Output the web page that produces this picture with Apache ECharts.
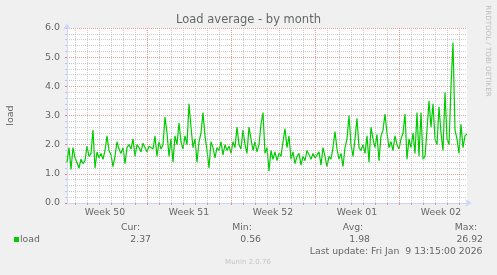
<!DOCTYPE html>
<html>
<head>
<meta charset="utf-8">
<script src="https://cdn.jsdelivr.net/npm/echarts@6/dist/echarts.min.js"></script>
<style>html,body{margin:0;padding:0;background:#f0f0f0;}#c{width:497px;height:275px;}</style>
</head>
<body>
<div id="c"></div>
<script>
// ---- data ----
const title = 'Load average - by month';
const yLabel = 'load';
const stepHours = 4;              // one sample every 4 hours
const firstMondayHour = 160;      // hours from first sample to first week boundary
const weekLabels = ['Week 50', 'Week 51', 'Week 52', 'Week 01', 'Week 02'];
const yTicks = [0, 1, 2, 3, 4, 5, 6];
const loadValues = [
  1.4, 1.9, 1.15, 1.9, 1.55, 1.6, 1.2, 1.5, 1.35, 1.45,
  1.95, 1.6, 1.7, 2.5, 1.2, 1.75, 1.55, 1.7, 1.5, 1.8,
  2.3, 1.8, 1.65, 1.25, 1.6, 2.1, 1.85, 1.7, 1.9, 1.35,
  1.9, 2.0, 1.85, 2.2, 1.6, 2.0, 1.9, 1.75, 2.05, 1.9,
  1.75, 1.95, 2.0, 1.85, 2.3, 1.6, 2.1, 1.85, 2.0, 2.95,
  2.4, 1.6, 2.2, 1.4, 2.3, 2.0, 2.75, 2.1, 1.85, 2.3,
  2.0, 3.4, 2.6, 1.9, 2.2, 1.4, 2.1, 2.4, 3.1, 2.3,
  1.8, 1.2, 2.1, 1.9, 1.55, 1.9, 1.8, 2.1, 1.65, 2.0,
  1.8, 1.95, 1.7, 2.1, 1.9, 2.6, 2.0, 1.85, 2.5, 2.0,
  1.7, 2.6, 2.2, 1.8, 2.1, 1.75, 2.0, 2.7, 3.1, 1.7,
  1.9, 1.1, 1.8, 1.5, 1.75, 1.45, 1.7, 1.6, 2.1, 2.55,
  1.9, 2.3, 1.5, 1.75, 1.35, 1.6, 1.7, 1.3, 1.6, 1.45,
  1.8, 1.65, 1.5, 1.7, 1.55, 1.5, 1.75, 1.3, 1.9, 1.6,
  1.25, 1.6, 1.5, 1.9, 2.45, 1.85, 1.5, 1.7, 1.25, 1.9,
  2.2, 3.0, 2.0, 1.6, 2.2, 2.9, 1.9, 1.8, 2.0, 1.7,
  2.3, 1.4, 2.6, 2.2, 1.9, 2.35, 1.45, 2.3, 2.5, 3.05,
  2.4, 1.9, 2.1, 1.8, 2.3, 2.0, 1.85, 2.2, 2.4, 3.05,
  1.5, 2.2, 1.9, 2.4, 1.7, 3.1, 1.6, 3.1, 1.5, 1.6,
  2.5, 3.5, 2.6, 3.4, 2.2, 2.0, 3.3, 2.4, 1.8, 3.8,
  2.2, 2.0, 4.0, 5.5, 2.5, 2.2, 1.7, 2.7, 1.9, 2.3,
  2.37
];
const legendName = 'load';
const statHeads = ['Cur:', 'Min:', 'Avg:', 'Max:'];
const statValues = ['2.37', '0.56', '1.98', '26.92'];
const lastUpdate = 'Last update: Fri Jan  9 13:15:00 2026';
const sideText = 'RRDTOOL / TOBI OETIKER';
const footer = 'Munin 2.0.76';

// ---- build ----
const FONT = 'DejaVu Sans';
const TXT = '#666666';
const seriesData = loadValues.map((v, i) => [i * stepHours, v]);
const xMax = (loadValues.length - 1) * stepHours;

const dayLines = [];
const labelPos = [];
const dayTicks = [];
for (let h = firstMondayHour % 24; h <= xMax; h += 24) {
  const isWeek = ((h - firstMondayHour) % 168 + 168) % 168 === 0;
  dayTicks.push(h);
  dayLines.push({
    xAxis: h,
    lineStyle: isWeek ? {color: 'rgba(230,120,120,0.75)', type: [1, 1], width: 1}
                      : {color: 'rgba(170,170,170,0.6)', type: [1, 1], width: 1}
  });
}
weekLabels.forEach((w, k) => labelPos.push(firstMondayHour + 168 * (k - 1) + 84));

const chart = echarts.init(document.getElementById('c'), null, {renderer: 'canvas'});
const statX = [[130.5, 151], [242, 261], [353, 370], [466, 483]];
const graphics = [
  {type: 'text', left: 'center', top: 14, style: {text: title, font: '11.5px "' + FONT + '"', fill: TXT}},
  {type: 'text', x: 11, y: 115.5, rotation: Math.PI / 2, style: {text: yLabel, font: '9.5px "' + FONT + '"', fill: TXT, align: 'center', verticalAlign: 'middle'}},
  {type: 'text', x: 488, y: 51, rotation: -Math.PI / 2, style: {text: sideText, font: '7.1px "' + FONT + '"', fill: '#bdbdbd', align: 'center', verticalAlign: 'middle'}},
  {type: 'rect', shape: {x: 14, y: 237, width: 5, height: 5}, style: {fill: '#00cc00'}},
  {type: 'text', x: 20, y: 239.5, style: {text: legendName, font: '9.3px "' + FONT + '"', fill: TXT, align: 'left', verticalAlign: 'middle'}},
  {type: 'text', x: 482.5, y: 251.5, style: {text: lastUpdate, font: '9.3px "' + FONT + '"', fill: TXT, align: 'right', verticalAlign: 'middle'}},
  {type: 'text', x: 248, y: 262.5, style: {text: footer, font: '7px "' + FONT + '"', fill: '#c4c4c4', align: 'center', verticalAlign: 'middle'}}
];
statHeads.forEach((h, k) => {
  graphics.push({type: 'text', x: statX[k][0], y: 227.5, style: {text: h, font: '9.3px "' + FONT + '"', fill: TXT, align: 'center', verticalAlign: 'middle'}});
  graphics.push({type: 'text', x: statX[k][1], y: 239.5, style: {text: statValues[k], font: '9.3px "' + FONT + '"', fill: TXT, align: 'right', verticalAlign: 'middle'}});
});

chart.setOption({
  animation: false,
  backgroundColor: '#f0f0f0',
  grid: {left: 67, right: 30, top: 28, bottom: 72, show: true, backgroundColor: '#ffffff', borderWidth: 0},
  xAxis: {
    type: 'value', min: 0, max: xMax,
    axisLine: {show: true, lineStyle: {color: '#CFD6F8', width: 1}, symbol: ['none', 'arrow'], symbolSize: [6, 7], symbolOffset: [0, 5]},
    axisTick: {show: true, customValues: dayTicks, length: 2, inside: false, lineStyle: {color: '#d0a0a0'}},
    axisLabel: {show: true, customValues: labelPos, margin: 5, color: TXT, fontFamily: FONT, fontSize: 9.3,
      formatter: (v) => { const k = labelPos.indexOf(v); return k >= 0 ? weekLabels[k] : ''; }},
    splitLine: {show: false}
  },
  yAxis: {
    type: 'value', min: yTicks[0], max: yTicks[yTicks.length - 1], interval: 1,
    axisLine: {show: true, lineStyle: {color: '#CFD6F8', width: 1}, symbol: ['none', 'arrow'], symbolSize: [6, 7], symbolOffset: [0, 5]},
    axisTick: {show: true, length: 2, lineStyle: {color: '#e08080'}},
    minorTick: {show: true, splitNumber: 5, length: 2, lineStyle: {color: '#c8c8c8'}},
    axisLabel: {color: TXT, fontFamily: FONT, fontSize: 9.5, margin: 7, formatter: (v) => v.toFixed(1)},
    splitLine: {show: true, lineStyle: {color: 'rgba(230,120,120,0.75)', type: [1, 1], width: 1}},
    minorSplitLine: {show: true, lineStyle: {color: 'rgba(170,170,170,0.6)', type: [1, 1], width: 1}}
  },
  series: [
    {type: 'line', data: [], z: 1, silent: true,
     markLine: {silent: true, symbol: ['none', 'none'], label: {show: false}, animation: false, data: dayLines}},
    {type: 'line', name: legendName, data: seriesData, z: 3, showSymbol: false, symbol: 'none',
     lineStyle: {color: '#00cc00', width: 1.2}, itemStyle: {color: '#00cc00'}}
  ],
  graphic: graphics
});
</script>
</body>
</html>
